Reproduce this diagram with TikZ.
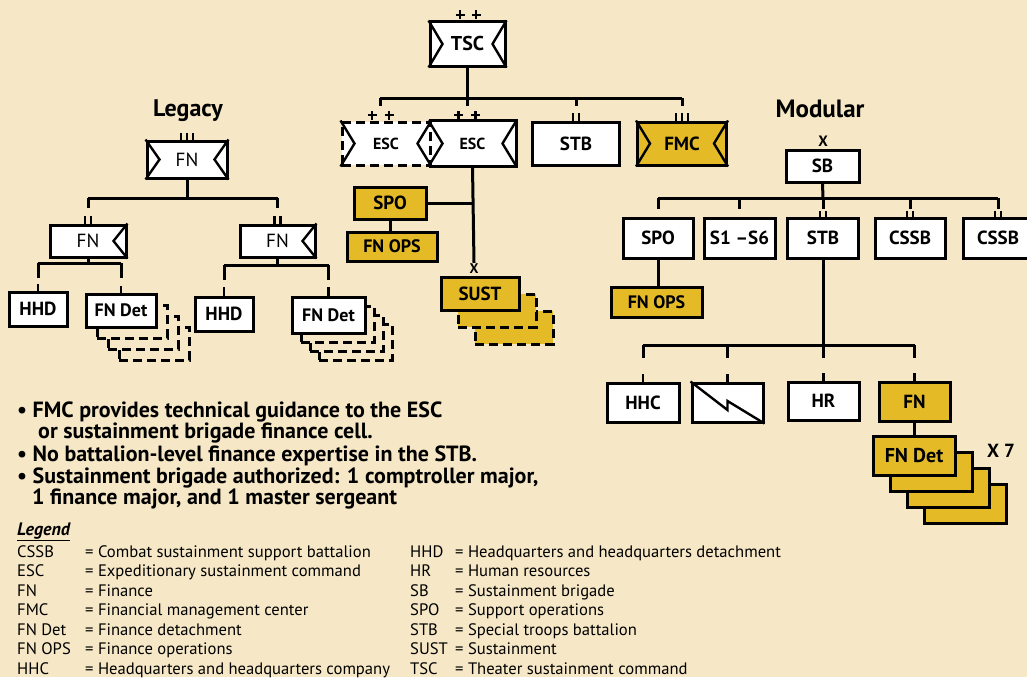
\documentclass[tikz,border=0pt]{standalone}
\usepackage{fontspec}
\setmainfont{PT Sans}
\definecolor{paper}{RGB}{246,232,198}
\definecolor{goldfill}{RGB}{228,187,38}
\newcommand\fsz[1]{\fontsize{#1}{#1}\selectfont}
\tikzset{
  unit/.style={draw, line width=3pt, fill=white, inner sep=0pt, font=\bfseries\fsz{19}},
  boxsize/.style 2 args={minimum width=#1pt, minimum height=#2pt},
  goldunit/.style={unit, fill=goldfill},
  ghost/.style={unit, fill=paper, dash pattern=on 9pt off 5pt},
  link/.style={line width=3pt},
  chev/.style={line width=2.4pt},
  tick/.style={line width=2.6pt},
  bullet/.style={anchor=base west, inner sep=0pt, font=\bfseries\fsz{22}},
  legitem/.style={anchor=base west, inner sep=0pt, font=\fsz{16.6}},
}
\newcommand\chevL[1]{\draw[chev] (#1.north west) -- ([xshift=14pt]#1.west) -- (#1.south west);}
\newcommand\chevR[1]{\draw[chev] (#1.north east) -- ([xshift=-14pt]#1.east) -- (#1.south east);}
\newcommand\plusat[1]{\draw[tick] ([xshift=-4.5pt]#1) -- ([xshift=4.5pt]#1) ([yshift=-4.5pt]#1) -- ([yshift=4.5pt]#1);}

\begin{document}
\begin{tikzpicture}[x=1pt,y=-1pt]
\fill[paper] (0,0) rectangle (1027,677);
\useasboundingbox (0,0) rectangle (1027,677);

% theater sustainment command
\node[unit, boxsize={75}{44}, font=\bfseries\fsz{20}] (tsc) at (467.5,44) {TSC};
\chevL{tsc} \chevR{tsc}
\plusat{460,15} \plusat{476,15}
\node[unit, draw=none, boxsize={85}{43}, font=\bfseries\fsz{16}] (esc) at (472.5,143.5) {ESC};
\draw[link] (esc.north west) -- (esc.north east) -- (esc.south east) -- (esc.south west);
\node[unit, dash pattern=on 9pt off 5pt, boxsize={88}{43}, font=\bfseries\fsz{16}] (escx) at (386,143.5) {ESC};
\chevL{escx} \chevR{escx} \chevL{esc} \chevR{esc}
\node[unit, boxsize={87}{43}] (tstb) at (576,143.5) {STB};
\node[goldunit, boxsize={89}{43}] (fmc) at (682,143.5) {FMC};
\chevL{fmc} \chevR{fmc}

\coordinate (tscbar) at (467.5,98);
\coordinate (escxtop) at ([xshift=-6pt]escx.north);
\draw[link] (tsc.south) -- (tscbar);
\draw[link] (escxtop |- tscbar) -- (fmc.north |- tscbar);
\draw[link] (escxtop |- tscbar) -- ++(0,8);
\draw[link] (tscbar) -- ++(0,8);
\draw[link] (tstb.north |- tscbar) -- ++(0,8);
\draw[link] (fmc.north |- tscbar) -- ++(0,8);
\plusat{372,115} \plusat{389,115}
\plusat{458.5,115} \plusat{475.5,115}
\foreach \d in {-3,3} \draw[tick] ([xshift=\d pt]tstb.north) -- ++(0,-8);
\foreach \d in {-6,0,6} \draw[tick] ([xshift=\d pt]fmc.north) -- ++(0,-8);

% ESC staff and sustainment brigades
\node[goldunit, boxsize={72}{32}] (espo) at (390,203) {SPO};
\node[goldunit, boxsize={90}{29}, font=\bfseries\fsz{18}] (efnops) at (392,246.5) {FN OPS};
\draw[link] (espo.south) -- (espo.south |- efnops.north);
\node[font=\bfseries\fsz{14}, inner sep=1pt] (sustx) at (474,269) {X};
\draw[link] (esc.south) -- (sustx.north);
\draw[link] (espo.east) -- (espo.east -| esc.south);
\foreach \k in {2,1} \node[goldunit, dash pattern=on 9pt off 5pt, boxsize={78}{33}] (sust\k) at (480+17*\k,293.5+17*\k) {};
\node[goldunit, boxsize={78}{33}] (sust) at (480,293.5) {SUST};

% legacy
\node[font=\bfseries\fsz{24}] (legacy) at (188,111) {Legacy};
\node[unit, boxsize={80}{37}, font=\fsz{19}] (lfn) at (187,159.5) {FN};
\chevL{lfn} \chevR{lfn}
\foreach \d in {-6,0,6} \draw[tick] ([xshift=\d pt]lfn.north) -- ++(0,-7);
\node[unit, boxsize={76}{32}, font=\fsz{19}] (lfna) at (88,241) {FN};
\node[unit, boxsize={75}{32}, font=\fsz{19}] (lfnb) at (277.5,241) {FN};
\chevR{lfna} \chevR{lfnb}
\coordinate (lbar) at (187,198);
\draw[link] (lfn.south) -- (lbar);
\draw[link] (lfna.north |- lbar) -- (lfnb.north |- lbar);
\foreach \n in {lfna,lfnb} {
  \draw[link] (\n.north |- lbar) -- ++(0,10);
  \foreach \d in {-3,3} \draw[tick] ([xshift=\d pt]\n.north) -- ++(0,-8);
}

\node[unit, boxsize={58}{34}] (lhhda) at (38,309) {HHD};
\foreach \k in {3,2,1} \node[ghost, boxsize={70}{33}] (ldeta\k) at (121+11*\k,310.5+11*\k) {};
\node[unit, boxsize={70}{33}, font=\bfseries\fsz{18}] (ldeta) at (121,310.5) {FN Det};
\coordinate (lsuba) at (88,263);
\draw[link] (lfna.south) -- (lsuba);
\draw[link] (lhhda.north |- lsuba) -- (ldeta.north |- lsuba);
\foreach \n in {lhhda,ldeta} {
  \draw[link] (\n.north |- lsuba) -- ++(0,15);
  \draw[tick] (\n.north) -- ++(0,-7);
}

\node[unit, boxsize={58}{34}] (lhhdb) at (224,314) {HHD};
\foreach \k in {3,2,1} \node[ghost, boxsize={73}{36}] (ldetb\k) at (328.5+9*\k,315+9*\k) {};
\node[unit, boxsize={73}{36}, font=\bfseries\fsz{18}] (ldetb) at (328.5,315) {FN Det};
\coordinate (lsubb) at (277.5,265);
\draw[link] (lfnb.south) -- (lsubb);
\draw[link] (lhhdb.north |- lsubb) -- (ldetb.north |- lsubb);
\foreach \n in {lhhdb,ldetb} {
  \draw[link] (\n.north |- lsubb) -- ++(0,15);
  \draw[tick] (\n.north) -- ++(0,-9);
}

% modular
\node[font=\bfseries\fsz{25}] (modular) at (820,109) {Modular};
\node[font=\bfseries\fsz{15}, inner sep=1pt] (sbx) at (823,141) {X};
\node[unit, boxsize={73}{32}] (sb) at (822.5,166) {SB};
\node[unit, boxsize={70}{40}] (mspo) at (658,238) {SPO};
\node[unit, boxsize={71}{40}] (ms16) at (739.5,238) {S1 –S6};
\node[unit, boxsize={71}{40}] (mstb) at (823,238) {STB};
\node[unit, boxsize={70}{40}] (mcssba) at (910,238) {CSSB};
\node[unit, boxsize={70}{40}] (mcssbb) at (998,238) {CSSB};
\coordinate (sbbar) at (823,198);
\draw[link] (sb.south) -- (sbbar);
\draw[link] (mspo.north |- sbbar) -- (mcssbb.north |- sbbar);
\foreach \n in {mspo,ms16,mstb,mcssba,mcssbb} \draw[link] (\n.north |- sbbar) -- ++(0,11);
\foreach \n in {mstb,mcssba,mcssbb} \foreach \d in {-3,3} \draw[tick] ([xshift=\d pt]\n.north) -- ++(0,-6);

\node[goldunit, boxsize={91}{30}, font=\bfseries\fsz{18}] (mfnops) at (656.5,302) {FN OPS};
\draw[link] (mspo.south) -- (mspo.south |- mfnops.north);

\node[unit, boxsize={72}{39}] (mhhc) at (643,402.5) {HHC};
\node[unit, boxsize={71}{39}] (msig) at (727.5,402.5) {};
\draw[chev] (msig.north west) -- ([yshift=-7.5pt]msig.center) -- ([yshift=1.5pt]msig.center) -- (msig.south east);
\node[unit, boxsize={71}{38}] (mhr) at (823.5,401) {HR};
\node[goldunit, boxsize={71}{39}] (mfn) at (914.5,401.5) {FN};
\coordinate (stbbar) at (823,345);
\draw[link] (mstb.south) -- (stbbar);
\draw[link] (mhhc.north |- stbbar) -- (mfn.north |- stbbar);
\foreach \n in {mhhc,msig,mhr,mfn} {
  \draw[link] (\n.north |- stbbar) -- ++(0,13);
  \draw[tick] (\n.north) -- ++(0,-8);
}

\foreach \k in {3,2,1} \node[goldunit, boxsize={82}{39}] (mdet\k) at (914+17*\k,455.5+16*\k) {};
\node[goldunit, boxsize={82}{39}, font=\bfseries\fsz{20}] (mdet) at (914,455.5) {FN Det};
\draw[link] (mfn.south) -- (mfn.south |- mdet.north);
\node[font=\bfseries\fsz{19}] (mtimes) at (1001,451) {X 7};

% notes
\node[bullet] (note1) at (17,417) {• FMC provides technical guidance to the ESC};
\node[bullet] (note1b) at (38,438) {or sustainment brigade finance cell.};
\node[bullet] (note2) at (17,461) {• No battalion-level finance expertise in the STB.};
\node[bullet] (note3) at (17,483) {• Sustainment brigade authorized: 1 comptroller major,};
\node[bullet] (note3b) at (32,504) {1 finance major, and 1 master sergeant};

% legend
\node[anchor=base west, inner sep=0pt, font=\bfseries\itshape\fsz{18}] (legend) at (17,535) {\underline{Legend}};
\foreach \a/\b [count=\i from 0] in {CSSB/Combat sustainment support battalion, ESC/Expeditionary sustainment command, FN/Finance, FMC/Financial management center, FN Det/Finance detachment, FN OPS/Finance operations, HHC/Headquarters and headquarters company} {
  \node[legitem] (lega\i) at (17,557+19.5*\i) {\a};
  \node[legitem] (legb\i) at (85,557+19.5*\i) {= \b};
}
\foreach \a/\b [count=\i from 0] in {HHD/Headquarters and headquarters detachment, HR/Human resources, SB/Sustainment brigade, SPO/Support operations, STB/Special troops battalion, SUST/Sustainment, TSC/Theater sustainment command} {
  \node[legitem] (legc\i) at (410,557+19.5*\i) {\a};
  \node[legitem] (legd\i) at (455,557+19.5*\i) {= \b};
}
\end{tikzpicture}
\end{document}
